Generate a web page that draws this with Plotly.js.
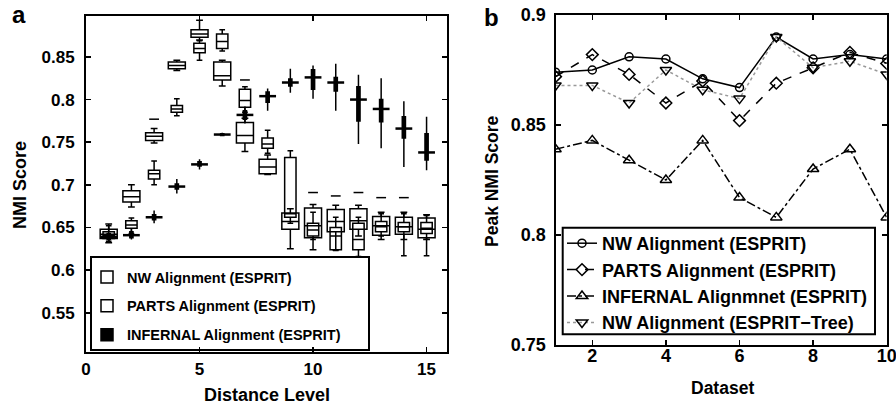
<!DOCTYPE html>
<html><head><meta charset="utf-8">
<script src="https://cdn.plot.ly/plotly-3.0.1.min.js"></script>
<style>html,body{margin:0;padding:0;background:#fff}#chart{width:896px;height:405px}</style>
</head><body><div id="chart"></div>
<script>
// ---------- Panel a data (box statistics per distance level) ----------
const distanceLevels = [1,2,3,4,5,6,7,8,9,10,11,12,13,14,15];

const nwQ1  = [0.637,0.680,0.752,0.836,0.873,0.823,0.749,0.713,0.648,0.638,0.645,0.648,0.641,0.642,0.638];
const nwMed = [0.642,0.686,0.757,0.840,0.877,0.828,0.758,0.721,0.657,0.652,0.657,0.658,0.652,0.651,0.648];
const nwQ3  = [0.648,0.693,0.761,0.844,0.882,0.844,0.773,0.730,0.667,0.673,0.671,0.672,0.663,0.662,0.661];
const nwLow = [0.632,0.674,0.749,0.834,0.870,0.816,0.739,0.712,0.625,0.624,0.624,0.640,0.636,0.636,0.636];
const nwHigh= [0.654,0.700,0.766,0.846,0.893,0.846,0.778,0.735,0.672,0.677,0.676,0.676,0.668,0.668,0.665];

const partsQ1  = [0.637,0.649,0.707,0.785,0.855,0.860,0.791,0.743,0.662,0.640,0.624,0.624,0.645,0.645,0.643];
const partsMed = [0.641,0.653,0.713,0.789,0.860,0.868,0.799,0.748,0.666,0.647,0.640,0.636,0.651,0.651,0.649];
const partsQ3  = [0.645,0.658,0.717,0.793,0.866,0.877,0.812,0.755,0.732,0.655,0.650,0.655,0.657,0.656,0.656];
const partsLow = [0.634,0.643,0.700,0.781,0.846,0.857,0.785,0.737,0.655,0.636,0.623,0.616,0.640,0.617,0.617];
const partsHigh= [0.652,0.661,0.728,0.801,0.869,0.882,0.815,0.764,0.740,0.668,0.662,0.662,0.666,0.666,0.664];

const infQ1  = [0.636,0.638,0.659,0.695,0.722,0.758,0.777,0.797,0.816,0.812,0.810,0.775,0.774,0.755,0.729];
const infMed = [0.639,0.641,0.662,0.698,0.724,0.759,0.782,0.804,0.820,0.826,0.820,0.800,0.789,0.766,0.738];
const infQ3  = [0.643,0.645,0.665,0.701,0.727,0.760,0.787,0.809,0.824,0.835,0.826,0.815,0.800,0.780,0.760];
const infLow = [0.633,0.636,0.655,0.690,0.718,0.757,0.772,0.787,0.808,0.801,0.787,0.748,0.743,0.721,0.717];
const infHigh= [0.650,0.648,0.670,0.707,0.730,0.761,0.792,0.813,0.836,0.840,0.842,0.829,0.825,0.798,0.780];

const outlierX = [3,7,10,11,12,13,14];
const outlierY = [0.777,0.823,0.691,0.687,0.691,0.685,0.685];

// ---------- Panel b data ----------
const datasets = [1,2,3,4,5,6,7,8,9,10];
const peakNwEsprit    = [0.874,0.875,0.881,0.880,0.871,0.867,0.890,0.880,0.882,0.880];
const peakPartsEsprit = [0.872,0.882,0.873,0.860,0.870,0.852,0.869,0.876,0.883,0.878];
const peakInfernal    = [0.839,0.843,0.834,0.825,0.843,0.817,0.808,0.830,0.839,0.808];
const peakNwTree      = [0.868,0.868,0.860,0.875,0.866,0.862,0.890,0.876,0.879,0.873];

const F = 'Liberation Sans, Arial, Helvetica, sans-serif';
const W = 896, H = 405;
const px = v => v / W;
const py = v => 1 - v / H;

const traces = [
  {type:'box', x:distanceLevels, q1:nwQ1, median:nwMed, q3:nwQ3, lowerfence:nwLow, upperfence:nwHigh,
   name:'NW Alignment (ESPRIT)', width:0.75, whiskerwidth:0.4, boxpoints:false,
   line:{color:'#000', width:1.5}, fillcolor:'rgba(0,0,0,0)', xaxis:'x', yaxis:'y',
   legend:'legend', legendgroup:'a1', hoverinfo:'skip'},
  {type:'box', x:distanceLevels, q1:partsQ1, median:partsMed, q3:partsQ3, lowerfence:partsLow, upperfence:partsHigh,
   name:'PARTS Alignment (ESPRIT)', width:0.5, whiskerwidth:0.5, boxpoints:false,
   line:{color:'#000', width:1.5}, fillcolor:'rgba(0,0,0,0)', xaxis:'x', yaxis:'y',
   legend:'legend', legendgroup:'a2', hoverinfo:'skip'},
  {type:'box', x:distanceLevels, q1:infQ1, median:infMed, q3:infQ3, lowerfence:infLow, upperfence:infHigh,
   name:'INFERNAL Alignment (ESPRIT)', width:0.14, whiskerwidth:0, boxpoints:false,
   line:{color:'#000', width:1.5}, fillcolor:'#000', xaxis:'x', yaxis:'y',
   legend:'legend', legendgroup:'a3', hoverinfo:'skip'},
  {type:'scatter', mode:'markers', x:distanceLevels, y:infMed, showlegend:false, xaxis:'x', yaxis:'y',
   marker:{symbol:'line-ew', size:12, line:{color:'#000', width:2.5}}, hoverinfo:'skip'},
  {type:'scatter', mode:'markers', x:outlierX, y:outlierY, showlegend:false, xaxis:'x', yaxis:'y',
   marker:{symbol:'line-ew', size:7, line:{color:'#000', width:1.5}}, hoverinfo:'skip'},

  {type:'scatter', mode:'lines+markers', x:datasets, y:peakNwEsprit, name:'NW Alignment (ESPRIT)',
   line:{color:'#000', width:1.5, dash:'solid'}, marker:{symbol:'circle-open', size:8, color:'#000', line:{width:1.5}},
   xaxis:'x2', yaxis:'y2', legend:'legend2', hoverinfo:'skip'},
  {type:'scatter', mode:'lines+markers', x:datasets, y:peakPartsEsprit, name:'PARTS Alignment (ESPRIT)',
   line:{color:'#000', width:1.5, dash:'dash'}, marker:{symbol:'diamond-open', size:9, color:'#000', line:{width:1.5}},
   xaxis:'x2', yaxis:'y2', legend:'legend2', hoverinfo:'skip'},
  {type:'scatter', mode:'lines+markers', x:datasets, y:peakInfernal, name:'INFERNAL Alignmnet (ESPRIT)',
   line:{color:'#000', width:1.5, dash:'dashdot'}, marker:{symbol:'triangle-up-open', size:10, color:'#000', line:{width:1.5}},
   xaxis:'x2', yaxis:'y2', legend:'legend2', hoverinfo:'skip'},
  {type:'scatter', mode:'lines+markers', x:datasets, y:peakNwTree, name:'NW Alignment (ESPRIT\u2212Tree)',
   line:{color:'#999', width:1.5, dash:'dot'}, marker:{symbol:'triangle-down-open', size:10, color:'#000', line:{width:1.5}},
   xaxis:'x2', yaxis:'y2', legend:'legend2', hoverinfo:'skip'}
];

const tickFont = {family:F, size:17, weight:'bold', color:'#000'};
const axBase = {showline:true, linecolor:'#000', linewidth:2, mirror:'ticks', ticks:'inside', ticklen:5,
  tickwidth:1.5, tickcolor:'#000', showgrid:false, zeroline:false, tickfont:tickFont, fixedrange:true,
  ticklabeloverflow:'allow'};

const layout = {
  width:W, height:H, margin:{l:0,r:0,t:0,b:0}, paper_bgcolor:'#fff', plot_bgcolor:'#fff',
  boxmode:'overlay', showlegend:true,
  xaxis: Object.assign({}, axBase, {domain:[px(86), px(447)], range:[0,15.9], tick0:0, dtick:5, anchor:'y', ticklabelstandoff:1}),
  yaxis: Object.assign({}, axBase, {domain:[py(352), py(16)], range:[0.504,0.898], tick0:0.5, dtick:0.05, anchor:'x', tickformat:'.2~f', ticklabelstandoff:6}),
  xaxis2: Object.assign({}, axBase, {domain:[px(555.5), px(886.7)], range:[1,10], tick0:0, dtick:2, anchor:'y2', ticklabelstandoff:-7, tickfont:Object.assign({}, tickFont, {size:18})}),
  yaxis2: Object.assign({}, axBase, {domain:[py(345), py(15)], range:[0.75,0.9], tick0:0.75, dtick:0.05, anchor:'x2', tickformat:'.2~f', tickfont:Object.assign({}, tickFont, {size:18}), ticklabelstandoff:4}),
  legend: {x:px(87), y:py(261), xanchor:'left', yanchor:'top', bgcolor:'rgba(0,0,0,0)', borderwidth:0,
    font:{family:F, size:14.5, weight:'bold', color:'#000'}, traceorder:'grouped', tracegroupgap:7, itemclick:false},
  legend2: {x:px(562), y:py(225), xanchor:'left', yanchor:'top', bgcolor:'rgba(0,0,0,0)', borderwidth:0,
    font:{family:F, size:18, weight:'bold', color:'#000'}, itemclick:false},
  shapes: [
    {type:'rect', xref:'paper', yref:'paper', x0:px(91), x1:px(369), y0:py(350), y1:py(257), line:{color:'#000', width:2}, fillcolor:'#fff', layer:'below'},
    {type:'rect', xref:'paper', yref:'paper', x0:px(562.7), x1:px(875), y0:py(334.3), y1:py(227.7), line:{color:'#000', width:2}, fillcolor:'#fff', layer:'below'}
  ],
  annotations: [
    {text:'a', xref:'paper', yref:'paper', x:px(19), y:py(15), xanchor:'center', yanchor:'middle', showarrow:false, font:{family:F, size:24, weight:'bold', color:'#000'}},
    {text:'b', xref:'paper', yref:'paper', x:px(491), y:py(18), xanchor:'center', yanchor:'middle', showarrow:false, font:{family:F, size:24, weight:'bold', color:'#000'}},
    {text:'NMI Score', xref:'paper', yref:'paper', x:px(20), y:py(185), xanchor:'center', yanchor:'middle', textangle:-90, showarrow:false, font:{family:F, size:18, weight:'bold', color:'#000'}},
    {text:'Distance Level', xref:'paper', yref:'paper', x:px(266.5), y:py(395), xanchor:'center', yanchor:'middle', showarrow:false, font:{family:F, size:18, weight:'bold', color:'#000'}},
    {text:'Peak NMI Score', xref:'paper', yref:'paper', x:px(492), y:py(181), xanchor:'center', yanchor:'middle', textangle:-90, showarrow:false, font:{family:F, size:17.5, weight:'bold', color:'#000'}},
    {text:'Dataset', xref:'paper', yref:'paper', x:px(722), y:py(388), xanchor:'center', yanchor:'middle', showarrow:false, font:{family:F, size:17.5, weight:'bold', color:'#000'}}
  ]
};

Plotly.newPlot('chart', traces, layout, {displayModeBar:false, staticPlot:true});
</script></body></html>
